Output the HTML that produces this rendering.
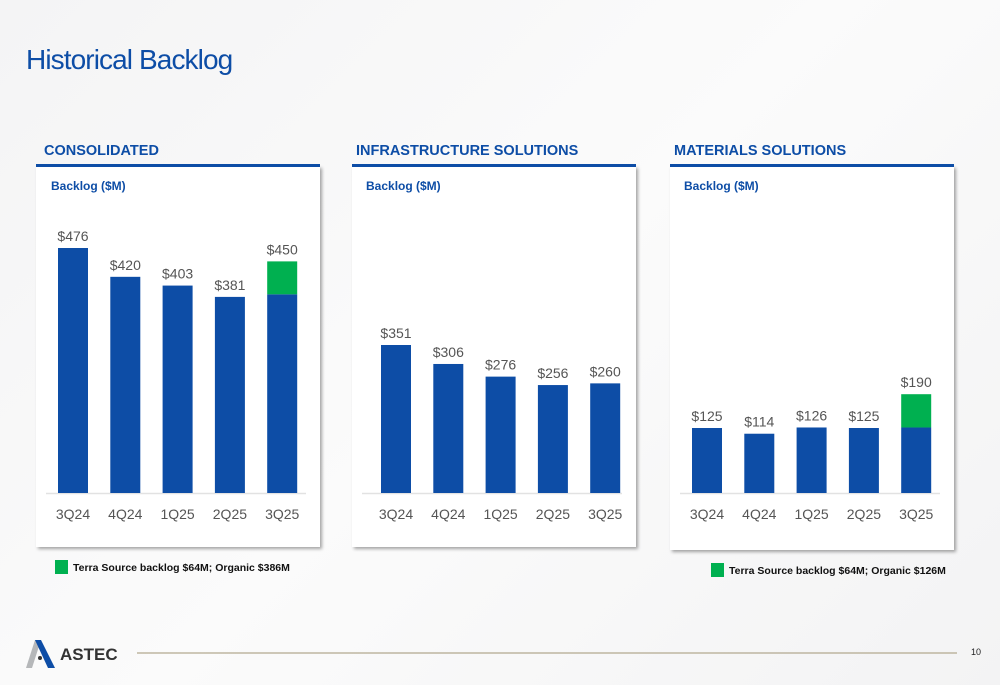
<!DOCTYPE html>
<html><head><meta charset="utf-8">
<style>
body{margin:0;width:1000px;height:685px;overflow:hidden;background:linear-gradient(135deg,#f4f4f5,#fbfbfb 50%,#f3f3f4);font-family:"Liberation Sans",sans-serif;}
svg{display:block}
</style></head><body>
<svg id="s" width="1000" height="685" xmlns="http://www.w3.org/2000/svg">
<defs><filter id="sh" x="-5%" y="-5%" width="115%" height="115%"><feDropShadow dx="2" dy="2" stdDeviation="1.5" flood-color="#000" flood-opacity="0.35"/></filter></defs>
<text x="26" y="69" font-size="28" fill="#0d4da6" style="letter-spacing:-0.9px">Historical Backlog</text>
<g id="charts"></g>
<g>
<polygon points="26,668 35,640 41,640 32,668" fill="#b5b7b9"/>
<polygon points="35,640 41,640 55,668 48,668" fill="#0d4da6"/>
<circle cx="40" cy="658" r="2" fill="#333"/>
<text x="60" y="660" font-size="17" font-weight="bold" fill="#333">ASTEC</text>
<line x1="137" y1="653" x2="957" y2="653" stroke="#b2a98f" stroke-width="1.2"/>
<text x="971" y="655" font-size="9" fill="#222">10</text>
</g>
</svg>
<script>
const categories=["3Q24","4Q24","1Q25","2Q25","3Q25"];
const consolidatedTotal=[476,420,403,381,450];
const consolidatedOrganic=[476,420,403,381,386];
const infraTotal=[351,306,276,256,260];
const infraOrganic=[351,306,276,256,260];
const materialsTotal=[125,114,126,125,190];
const materialsOrganic=[125,114,126,125,126];
const panelTitles=["CONSOLIDATED","INFRASTRUCTURE SOLUTIONS","MATERIALS SOLUTIONS"];
const notes=["Terra Source backlog $64M; Organic $386M","","Terra Source backlog $64M; Organic $126M"];
const NS="http://www.w3.org/2000/svg";
const g=document.getElementById('charts');
function mk(t,a,p){const e=document.createElementNS(NS,t);for(const k in a)e.setAttribute(k,a[k]);(p||g).appendChild(e);return e;}
const panels=[
 {x:36,w:284,bottom:547,scale:245/476,off:37,tot:consolidatedTotal,org:consolidatedOrganic,name:'consolidated'},
 {x:352,w:284,bottom:547,scale:148/351,off:44,tot:infraTotal,org:infraOrganic,name:'infrastructure'},
 {x:670,w:284,bottom:550,scale:65/125,off:37,tot:materialsTotal,org:materialsOrganic,name:'materials'}
];
const base=493;
panels.forEach((p,pi)=>{
 const grp=mk('g',{});
 
 
 const t=mk('text',{x:p.x+(pi==0?8:4),y:155,'font-size':14.5,'font-weight':'bold',fill:'#0d4da6'},grp);t.textContent=panelTitles[pi];
 
 
 const card=mk('rect',{x:p.x,y:166,width:p.w,height:p.bottom-166,fill:'#fff',filter:'url(#sh)'},grp);
 
 
 mk('rect',{x:p.x,y:164,width:p.w,height:3,fill:'#0d4da6'},grp);
 const sub=mk('text',{x:p.x+(pi==0?15:14),y:190,'font-size':12,'font-weight':'bold',fill:'#0d4da6'},grp);sub.textContent='Backlog ($M)';
 
 
 const ax=mk('line',{x1:p.x+10,y1:base+0.5,x2:p.x+p.w-14,y2:base+0.5,stroke:'#e2e2e2','stroke-width':1.5},grp);
 
 
 const step=52.3, x0=p.x+p.off;
 categories.forEach((c,i)=>{
  const cx=x0+i*step, bw=30;
  const ho=p.org[i]*p.scale, ht=p.tot[i]*p.scale;
  const b=mk('rect',{x:cx-bw/2,y:base-ho,width:bw,height:ho,fill:'#0d4da6'},grp);
  
  
  if(ht>ho){const gb=mk('rect',{x:cx-bw/2,y:base-ht,width:bw,height:ht-ho,fill:'#00b050'},grp);
   
   }
  const v=mk('text',{x:cx,y:base-ht-7,'font-size':14,fill:'#555','text-anchor':'middle'},grp);v.textContent='$'+p.tot[i];
  
  
  const l=mk('text',{x:cx,y:519,'font-size':14,fill:'#555','text-anchor':'middle'},grp);l.textContent=c;
  
  
 });
 if(notes[pi]){
  const lx=pi==0?55:711, ly=pi==0?560:563;
  const sw=mk('rect',{x:lx,y:ly,width:13,height:14,fill:'#00b050'},grp);
  
  
  const nt=mk('text',{x:lx+18,y:ly+11,'font-size':10.5,'font-weight':'bold',fill:'#111'},grp);nt.textContent=notes[pi];
  
  
 }
});
</script>
</body></html>
